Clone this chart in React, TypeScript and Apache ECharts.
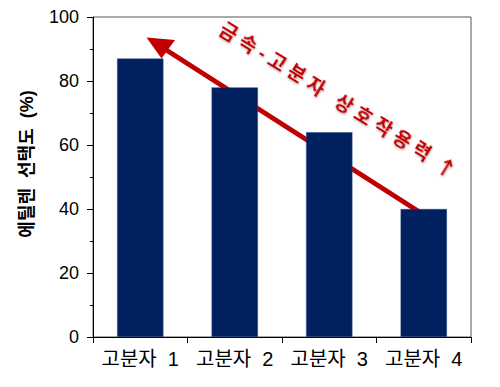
import React, { useEffect, useRef } from "react";
import * as echarts from "echarts";

const categories = ["고분자  1", "고분자  2", "고분자  3", "고분자  4"];
const selectivity = [87, 78, 64, 40];
const yTicks = [0, 20, 40, 60, 80, 100];
const yTitle = "에틸렌  선택도  (%)";
const annotationText = "금 속 - 고 분 자   상 호 작 용 력  ";
const annotationArrow = "↑";

const FONT = "'Liberation Sans', Arial, 'Noto Sans CJK KR', sans-serif";

export default function App() {
  const ref = useRef<HTMLDivElement>(null);
  useEffect(() => {
    document.body.style.margin = "0";
    if (!ref.current) return;
    const chart = echarts.init(ref.current, null, { renderer: "svg" });
    const angle = (-31.5 * Math.PI) / 180;
    const shadow = {
      textShadowColor: "rgba(0,0,0,0.3)",
      textShadowBlur: 2,
      textShadowOffsetX: 1,
      textShadowOffsetY: 1,
    };
    chart.setOption({
      animation: false,
      textStyle: { fontFamily: FONT },
      grid: {
        left: 93,
        right: 29,
        top: 17,
        bottom: 50,
        show: true,
        borderColor: "#555",
        borderWidth: 1,
        backgroundColor: "transparent",
      },
      xAxis: {
        type: "category",
        data: categories,
        boundaryGap: true,
        axisLine: { lineStyle: { color: "#000", width: 1 } },
        axisTick: { show: true, length: 6, inside: false, lineStyle: { color: "#000" } },
        axisLabel: { color: "#000", fontSize: 20, fontFamily: FONT, margin: 12, interval: 0 },
      },
      yAxis: {
        type: "value",
        min: yTicks[0],
        max: yTicks[yTicks.length - 1],
        interval: 20,
        axisLine: { show: true, lineStyle: { color: "#000", width: 1 } },
        axisTick: { show: true, length: 6, inside: false, lineStyle: { color: "#000" } },
        minorTick: { show: true, splitNumber: 2, length: 3, lineStyle: { color: "#000" } },
        splitLine: { show: false },
        axisLabel: { color: "#000", fontSize: 18, fontFamily: FONT, margin: 14 },
      },
      series: [
        {
          type: "bar",
          data: selectivity,
          barWidth: "49%",
          itemStyle: { color: "#00205F", borderColor: "#2B4A86", borderWidth: 0.5 },
        },
      ],
      graphic: [
        {
          type: "text",
          x: 27,
          y: 164,
          rotation: Math.PI / 2,
          style: {
            text: yTitle,
            fontSize: 18,
            fontWeight: "bold",
            fontFamily: FONT,
            fill: "#000",
            align: "center",
            verticalAlign: "middle",
          },
        },
        {
          type: "line",
          shape: { x1: 432, y1: 220, x2: 160, y2: 46 },
          style: { stroke: "#C00000", lineWidth: 5, lineCap: "round" },
        },
        {
          type: "polygon",
          shape: {
            points: [
              [146.5, 37.5],
              [175, 40],
              [161.5, 58.5],
            ],
          },
          style: { fill: "#C00000" },
        },
        {
          type: "text",
          x: 338,
          y: 100,
          rotation: angle,
          style: {
            text: "{a|" + annotationText + "}{b|" + annotationArrow + "}",
            align: "center",
            verticalAlign: "middle",
            fill: "#C00000",
            rich: {
              a: {
                fontSize: 19,
                fontWeight: "bold",
                fontFamily: FONT,
                fill: "#C00000",
                ...shadow,
              },
              b: {
                fontSize: 20,
                fontWeight: "bold",
                fontFamily: "'Noto Sans CJK KR', sans-serif",
                fill: "#C00000",
                ...shadow,
              },
            },
          },
        },
      ],
    });
    return () => chart.dispose();
  }, []);
  return <div ref={ref} style={{ width: 500, height: 387 }} />;
}
